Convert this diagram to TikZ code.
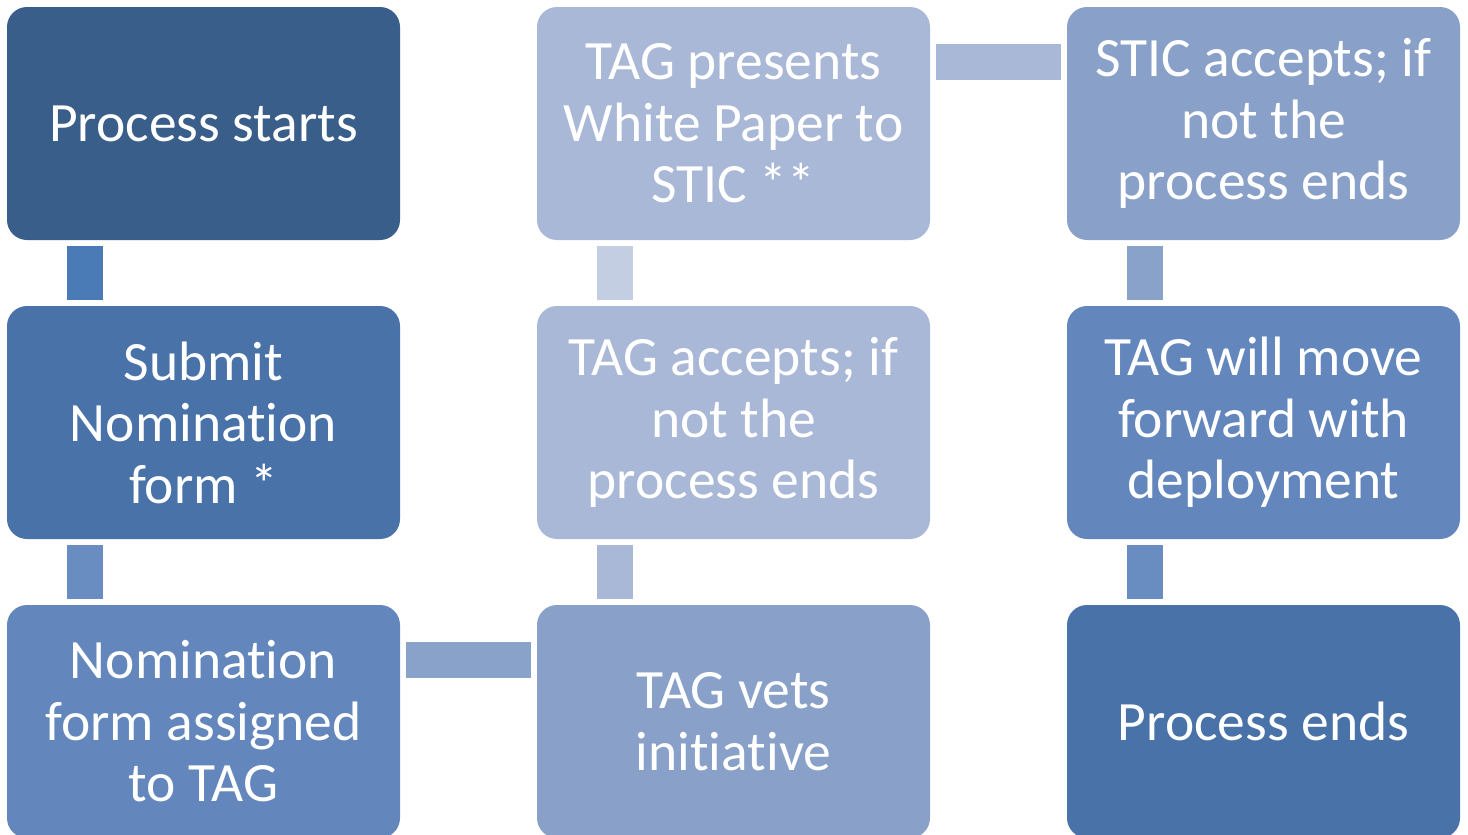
\documentclass[tikz,border=0pt]{standalone}
\usepackage{fontspec}
\setmainfont{Carlito}[Ligatures={NoCommon,NoRare}]
\definecolor{boxA}{HTML}{3A5E8A}
\definecolor{boxB}{HTML}{4872A8}
\definecolor{boxC}{HTML}{6387BC}
\definecolor{boxD}{HTML}{89A1C8}
\definecolor{boxE}{HTML}{A9B8D7}
\definecolor{barA}{HTML}{4A7BB7}
\definecolor{barB}{HTML}{698DC0}
\definecolor{barC}{HTML}{89A2C9}
\definecolor{barD}{HTML}{A9B8D7}
\definecolor{barE}{HTML}{C4CEE3}
\tikzset{
  box/.style={rounded corners=20pt, minimum width=393pt, minimum height=233pt,
    inner sep=0pt, text=white, align=center, font=\fontsize{55.5}{61.5}\selectfont},
  bar/.style={line width=36pt, shorten <=6pt, shorten >=6pt},
}
\begin{document}
\begin{tikzpicture}[x=1pt,y=1pt]
\useasboundingbox (0,0) rectangle (1468,-835);
% left column
\node[box,fill=boxA] (start) at (203.5,-123.5) {Process starts};
\node[box,fill=boxB] (submit) at (203.5,-422.5) {Submit\\Nomination\\form *};
\node[box,fill=boxC] (assign) at (203.5,-721.5) {Nomination\\form assigned\\to TAG};
% middle column
\node[box,fill=boxD] (vets) at (733.5,-721.5) {TAG vets\\initiative};
\node[box,fill=boxE] (tagok) at (733.5,-422.5) {TAG accepts; if\\not the\\process ends};
\node[box,fill=boxE] (paper) at (733.5,-123.5) {TAG presents\\White Paper to\\STIC **};
% right column
\node[box,fill=boxD] (sticok) at (1263.5,-123.5) {STIC accepts; if\\not the\\process ends};
\node[box,fill=boxC] (deploy) at (1263.5,-422.5) {TAG will move\\forward with\\deployment};
\node[box,fill=boxB] (finish) at (1263.5,-721.5) {Process ends};
% connectors
\draw[bar,barA] ([xshift=78pt]start.south west) -- ([xshift=78pt]submit.north west);
\draw[bar,barB] ([xshift=78pt]submit.south west) -- ([xshift=78pt]assign.north west);
\draw[bar,barC] ([yshift=-55.5pt]assign.north east) -- ([yshift=-55.5pt]vets.north west);
\draw[bar,barD] ([xshift=78pt]vets.north west) -- ([xshift=78pt]tagok.south west);
\draw[bar,barE] ([xshift=78pt]tagok.north west) -- ([xshift=78pt]paper.south west);
\draw[bar,barD] ([yshift=-55.5pt]paper.north east) -- ([yshift=-55.5pt]sticok.north west);
\draw[bar,barC] ([xshift=78pt]sticok.south west) -- ([xshift=78pt]deploy.north west);
\draw[bar,barB] ([xshift=78pt]deploy.south west) -- ([xshift=78pt]finish.north west);
\end{tikzpicture}
\end{document}
